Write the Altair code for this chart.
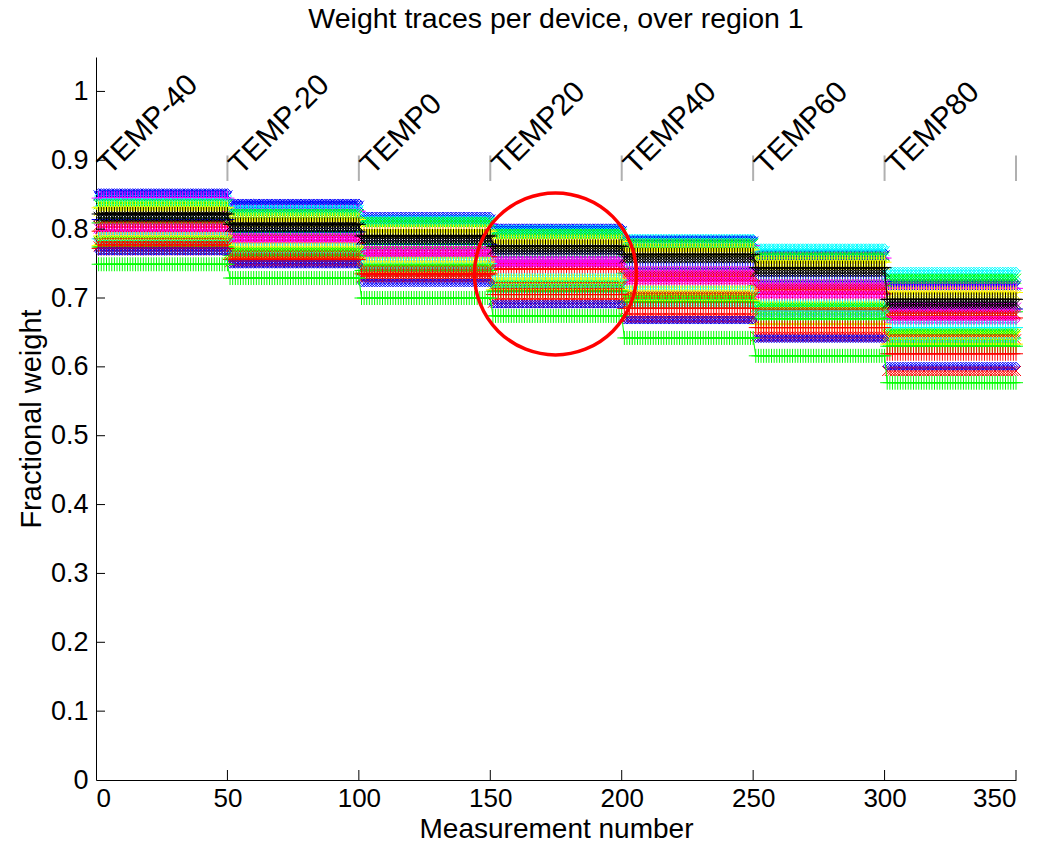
import altair as alt
import pandas as pd

# ---------------- data ----------------
SEGMENT_LABELS = ["TEMP-40", "TEMP-20", "TEMP0", "TEMP20", "TEMP40", "TEMP60", "TEMP80"]
SEGMENT_STARTS = [0, 50, 100, 150, 200, 250, 300]
SEGMENT_BOUNDS = [50, 100, 150, 200, 250, 300, 350]
POINTS_PER_SEGMENT = 50

X_TICKS = [0, 50, 100, 150, 200, 250, 300, 350]
Y_TICKS = [0, 0.1, 0.2, 0.3, 0.4, 0.5, 0.6, 0.7, 0.8, 0.9, 1.0]

# one entry per device: colour, marker, level in each of the 7 segments
DEVICE_COLORS = [
    "#0000ff", "#00ffff", "#0000ff", "#ff00ff", "#00ffff", "#00ff00", "#ffff00",
    "#ffff00", "#0000ff", "#00ff00", "#ff0000", "#ff00ff", "#ff0000", "#ff00ff",
    "#ffff00", "#00ffff", "#ffff00", "#00ff00", "#ff0000", "#00ffff", "#ffff00",
    "#00ff00", "#ff0000", "#ff0000", "#0000ff", "#000000", "#000000", "#00ff00",
]
DEVICE_MARKERS = [
    "d", "d", "x", "+", "x", "x", "+",
    "x", "+", "+", "x", "x", "+", "d",
    "d", "+", "x", "x", "x", "x", "+",
    "+", "+", "x", "d", "x", "+", "+",
]
DEVICE_LEVELS = [
    [0.853, 0.838, 0.819, 0.802, 0.785, 0.766, 0.722],
    [0.848, 0.832, 0.815, 0.800, 0.787, 0.773, 0.739],
    [0.849, 0.834, 0.814, 0.797, 0.782, 0.762, 0.718],
    [0.845, 0.826, 0.808, 0.790, 0.776, 0.758, 0.714],
    [0.838, 0.828, 0.812, 0.795, 0.780, 0.768, 0.733],
    [0.836, 0.822, 0.810, 0.793, 0.779, 0.760, 0.728],
    [0.831, 0.814, 0.797, 0.782, 0.770, 0.752, 0.708],
    [0.826, 0.810, 0.793, 0.778, 0.766, 0.748, 0.704],
    [0.814, 0.796, 0.778, 0.760, 0.742, 0.724, 0.684],
    [0.809, 0.790, 0.772, 0.752, 0.736, 0.718, 0.680],
    [0.805, 0.786, 0.768, 0.748, 0.733, 0.714, 0.676],
    [0.801, 0.787, 0.768, 0.754, 0.739, 0.720, 0.686],
    [0.797, 0.780, 0.760, 0.742, 0.725, 0.706, 0.671],
    [0.795, 0.784, 0.765, 0.750, 0.725, 0.705, 0.668],
    [0.790, 0.775, 0.754, 0.729, 0.712, 0.690, 0.652],
    [0.786, 0.770, 0.750, 0.726, 0.708, 0.688, 0.657],
    [0.784, 0.768, 0.746, 0.722, 0.704, 0.682, 0.645],
    [0.782, 0.766, 0.742, 0.718, 0.700, 0.686, 0.648],
    [0.780, 0.762, 0.740, 0.716, 0.702, 0.679, 0.640],
    [0.778, 0.760, 0.738, 0.714, 0.691, 0.675, 0.636],
    [0.776, 0.758, 0.736, 0.712, 0.696, 0.662, 0.633],
    [0.774, 0.762, 0.740, 0.710, 0.694, 0.670, 0.630],
    [0.772, 0.756, 0.735, 0.705, 0.685, 0.657, 0.619],
    [0.775, 0.752, 0.730, 0.693, 0.671, 0.644, 0.594],
    [0.768, 0.749, 0.722, 0.691, 0.668, 0.641, 0.601],
    [0.818, 0.803, 0.785, 0.770, 0.758, 0.738, 0.692],
    [0.822, 0.807, 0.790, 0.775, 0.763, 0.744, 0.698],
    [0.749, 0.729, 0.700, 0.674, 0.642, 0.616, 0.577],
]
LINE_DEVICES = [26, 27]  # devices drawn with a connecting line

# red highlight circle
CIRCLE_X = [174.8]
CIRCLE_Y = [0.735]

# ---------------- build tables ----------------
MARKER_PATH = {
    "+": "M-1,0L1,0M0,-1L0,1",
    "x": "M-1,-1L1,1M-1,1L1,-1",
    "d": "diamond",
}
MARKER_SIZE = {"+": 196, "x": 100, "d": 64}

rows = []
for i, (col, mk, lev) in enumerate(zip(DEVICE_COLORS, DEVICE_MARKERS, DEVICE_LEVELS)):
    for s, level in enumerate(lev):
        for k in range(POINTS_PER_SEGMENT):
            m = SEGMENT_STARTS[s] + k + 1
            rows.append({
                "device": i, "order": i * 1000 + m, "measurement": m, "weight": level,
                "color": col, "shape": MARKER_PATH[mk], "size": MARKER_SIZE[mk],
            })
df = pd.DataFrame(rows)
df_lines = df[df["device"].isin(LINE_DEVICES)]

FONT = "Liberation Sans"
xscale = alt.Scale(domain=[0, 350], nice=False, zero=False)
yscale = alt.Scale(domain=[0, 1.05], nice=False, zero=False)

points = alt.Chart(df).mark_point(filled=False, strokeWidth=1, opacity=1).encode(
    x=alt.X("measurement:Q", scale=xscale,
            axis=alt.Axis(values=X_TICKS, title="Measurement number", ticks=False,
                          labelPadding=5, labelFontSize=26, titleFontSize=28,
                          titlePadding=4, grid=False)),
    y=alt.Y("weight:Q", scale=yscale,
            axis=alt.Axis(values=Y_TICKS, format="~g", title="Fractional weight", ticks=False,
                          labelPadding=8, titlePadding=4, grid=False)),
    color=alt.Color("color:N", scale=None),
    shape=alt.Shape("shape:N", scale=None),
    size=alt.Size("size:Q", scale=None),
)

lines = alt.Chart(df_lines).mark_line(strokeWidth=1).encode(
    x=alt.X("measurement:Q", scale=xscale),
    y=alt.Y("weight:Q", scale=yscale),
    detail="device:N",
    color=alt.Color("color:N", scale=None),
    order="order:Q",
)

bounds_df = pd.DataFrame({"b": SEGMENT_BOUNDS})
seg_marks = alt.Chart(bounds_df).mark_rule(color="#b0b0b0", strokeWidth=2).encode(
    x=alt.X("b:Q", scale=xscale),
    y=alt.datum(0.870, scale=yscale),
    y2=alt.datum(0.907),
)

labels_df = pd.DataFrame({"label": SEGMENT_LABELS, "start": SEGMENT_STARTS})
seg_labels = alt.Chart(labels_df).transform_calculate(
    lx="datum.start + 5.2"
).mark_text(
    angle=315, align="left", baseline="alphabetic", font=FONT, fontSize=30,
    color="black",
).encode(
    x=alt.X("lx:Q", scale=xscale),
    y=alt.datum(0.877, scale=yscale),
    text="label:N",
)

xt_df = pd.DataFrame({"t": X_TICKS[1:]})
x_ticks = alt.Chart(xt_df).mark_rule(color="black", strokeWidth=1).encode(
    x=alt.X("t:Q", scale=xscale),
    y=alt.value(723),
    y2=alt.value(713),
)
yt_df = pd.DataFrame({"t": Y_TICKS[1:]})
y_ticks = alt.Chart(yt_df).mark_rule(color="black", strokeWidth=1).encode(
    y=alt.Y("t:Q", scale=yscale),
    x=alt.value(0),
    x2=alt.value(9),
)

circ_df = pd.DataFrame({"cx": CIRCLE_X, "cy": CIRCLE_Y})
circle = alt.Chart(circ_df).mark_point(
    shape="circle", filled=False, stroke="#ff0000", strokeWidth=3.5, opacity=1,
    size=(2 * 81) ** 2,
).encode(
    x=alt.X("cx:Q", scale=xscale),
    y=alt.Y("cy:Q", scale=yscale),
)

chart = alt.layer(points, lines, seg_marks, seg_labels, x_ticks, y_ticks, circle).properties(
    width=920,
    height=723,
    title=alt.TitleParams("Weight traces per device, over region 1", font=FONT, fontSize=28.5,
                          fontWeight="normal", color="black", offset=24, anchor="middle"),
    autosize=alt.AutoSizeParams(type="none"),
    padding={"left": 96, "top": 57, "right": 23, "bottom": 66},
).configure_axis(
    labelFont=FONT, labelFontSize=27, labelColor="black",
    titleFont=FONT, titleFontSize=29, titleFontWeight="normal", titleColor="black",
    domainColor="black", domainWidth=1,
).configure_view(strokeWidth=0)

chart.save("out.html", embed_options={"renderer": "svg", "actions": False})
